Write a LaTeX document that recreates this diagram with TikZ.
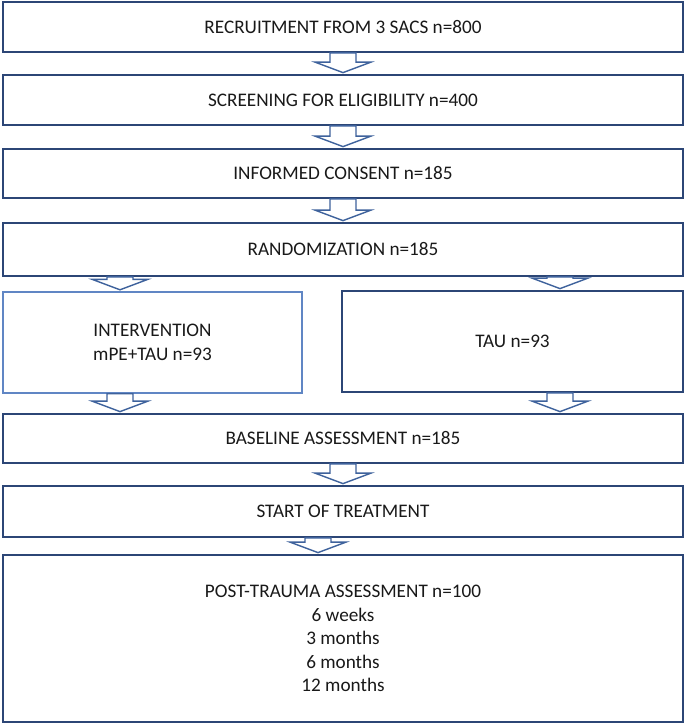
\documentclass[tikz,border=0pt]{standalone}
\usepackage{fontspec}
\setmainfont{Carlito}
\usetikzlibrary{calc}
\definecolor{boxc}{RGB}{44,70,118}
\definecolor{lboxc}{RGB}{96,134,196}
\definecolor{arrc}{RGB}{62,98,156}
\tikzset{
  box/.style={draw=boxc, line width=1.8pt, fill=white, minimum width=680pt, align=center, inner sep=2pt,
    text=black!90, font=\fontsize{19.2}{23.5}\selectfont},
  lbox/.style={box, draw=lboxc, line width=1.4pt},
  barr/.style={draw=arrc, line width=1.4pt, fill=white, line join=miter}
}
\newcommand\barrow[2]{\draw[barr] let \p1=(#1), \p2=(#2) in
  (\x1-13pt,\y1) -- (\x1+13pt,\y1) -- (\x1+13pt,\y2+12pt) -- (\x1+28pt,\y2+12pt) --
  (\x1,\y2+1.5pt) -- (\x1-28pt,\y2+12pt) -- (\x1-13pt,\y2+12pt) -- cycle;}
\begin{document}
\begin{tikzpicture}[x=1pt,y=-1pt]
\useasboundingbox[fill=white] (0,0) rectangle (685,724);
\node[box, minimum height=50pt] (r1) at (343,27) {RECRUITMENT FROM 3 SACS n=800};
\node[box, minimum height=50pt] (r2) at (343,100) {SCREENING FOR ELIGIBILITY n=400};
\node[box, minimum height=49pt] (r3) at (343,173.5) {INFORMED CONSENT n=185};
\node[box, minimum height=53pt] (r4) at (343,249.5) {RANDOMIZATION n=185};
\node[lbox, minimum width=299pt, minimum height=101pt] (left) at (152.5,342.5) {INTERVENTION\\mPE+TAU n=93};
\node[box, minimum width=341pt, minimum height=101pt] (right) at (512.5,341.5) {TAU n=93};
\node[box, minimum height=49pt] (base) at (343,438.5) {BASELINE ASSESSMENT n=185};
\node[box, minimum height=51pt] (start) at (343,511.5) {START OF TREATMENT};
\node[box, minimum height=167pt] (final) at (343,638.5) {POST-TRAUMA ASSESSMENT n=100\\6 weeks\\3 months\\6 months\\12 months};
\coordinate (aL) at (120,0);
\coordinate (aR) at (560,0);
\coordinate (aF) at (318,0);
\barrow{r1.south}{r2.north}
\barrow{r2.south}{r3.north}
\barrow{r3.south}{r4.north}
\barrow{aL |- r4.south}{aL |- left.north}
\barrow{aR |- r4.south}{aR |- right.north}
\barrow{aL |- left.south}{aL |- base.north}
\barrow{aR |- right.south}{aR |- base.north}
\barrow{base.south}{start.north}
\barrow{aF |- start.south}{aF |- final.north}
\end{tikzpicture}
\end{document}
